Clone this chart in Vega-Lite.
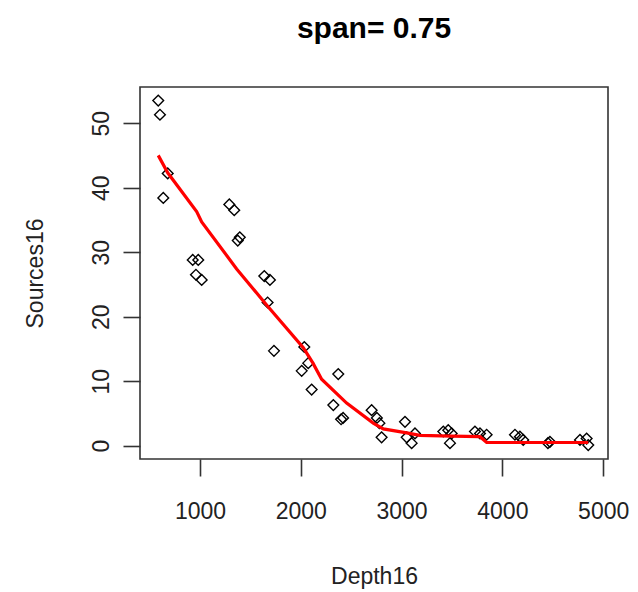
{
  "$schema": "https://vega.github.io/schema/vega-lite/v6.json",
  "width": 468,
  "height": 372,
  "autosize": {"type": "none"},
  "padding": {"left": 140, "top": 87, "right": 30, "bottom": 133},
  "background": "white",
  "title": {
    "text": "span= 0.75",
    "font": "Liberation Sans",
    "fontSize": 30,
    "fontWeight": "bold",
    "color": "#000000",
    "anchor": "middle",
    "frame": "group",
    "baseline": "alphabetic",
    "offset": 19
  },
  "config": {
    "view": {"stroke": "#333333", "strokeWidth": 1.6},
    "axis": {
      "grid": false,
      "domain": false,
      "tickSize": 17,
      "tickColor": "#333333",
      "tickWidth": 1.6,
      "labelFont": "Liberation Sans",
      "labelFontSize": 23,
      "labelColor": "#222222",
      "titleFont": "Liberation Sans",
      "titleFontSize": 23,
      "titleFontWeight": "normal",
      "titleColor": "#222222"
    }
  },
  "datasets": {
    "pts": [
      {"Depth16": 586, "Sources16": 53.5},
      {"Depth16": 603, "Sources16": 51.3},
      {"Depth16": 680, "Sources16": 42.2},
      {"Depth16": 636, "Sources16": 38.4},
      {"Depth16": 928, "Sources16": 28.8},
      {"Depth16": 983, "Sources16": 28.8},
      {"Depth16": 960, "Sources16": 26.5},
      {"Depth16": 1017, "Sources16": 25.7},
      {"Depth16": 1291, "Sources16": 37.4},
      {"Depth16": 1340, "Sources16": 36.5},
      {"Depth16": 1375, "Sources16": 31.8},
      {"Depth16": 1395, "Sources16": 32.3},
      {"Depth16": 1638, "Sources16": 26.3},
      {"Depth16": 1694, "Sources16": 25.7},
      {"Depth16": 1671, "Sources16": 22.2},
      {"Depth16": 1734, "Sources16": 14.7},
      {"Depth16": 2035, "Sources16": 15.3},
      {"Depth16": 2009, "Sources16": 11.6},
      {"Depth16": 2074, "Sources16": 12.8},
      {"Depth16": 2108, "Sources16": 8.7},
      {"Depth16": 2372, "Sources16": 11.1},
      {"Depth16": 2323, "Sources16": 6.3},
      {"Depth16": 2400, "Sources16": 4.1},
      {"Depth16": 2420, "Sources16": 4.3},
      {"Depth16": 2703, "Sources16": 5.5},
      {"Depth16": 2755, "Sources16": 4.3},
      {"Depth16": 2780, "Sources16": 3.5},
      {"Depth16": 2802, "Sources16": 1.3},
      {"Depth16": 3034, "Sources16": 3.7},
      {"Depth16": 3051, "Sources16": 1.3},
      {"Depth16": 3133, "Sources16": 1.9},
      {"Depth16": 3100, "Sources16": 0.4},
      {"Depth16": 3414, "Sources16": 2.2},
      {"Depth16": 3463, "Sources16": 2.4},
      {"Depth16": 3497, "Sources16": 1.9},
      {"Depth16": 3480, "Sources16": 0.4},
      {"Depth16": 3728, "Sources16": 2.2},
      {"Depth16": 3778, "Sources16": 1.9},
      {"Depth16": 3844, "Sources16": 1.7},
      {"Depth16": 4125, "Sources16": 1.7},
      {"Depth16": 4174, "Sources16": 1.4},
      {"Depth16": 4207, "Sources16": 0.9},
      {"Depth16": 4472, "Sources16": 0.6},
      {"Depth16": 4452, "Sources16": 0.4},
      {"Depth16": 4770, "Sources16": 0.9},
      {"Depth16": 4836, "Sources16": 1.1},
      {"Depth16": 4852, "Sources16": 0.1}
    ],
    "fit": [
      {"Depth16": 586, "fit": 45.0},
      {"Depth16": 680, "fit": 42.3},
      {"Depth16": 967, "fit": 36.3},
      {"Depth16": 1017, "fit": 34.7},
      {"Depth16": 1364, "fit": 27.4},
      {"Depth16": 1661, "fit": 21.8},
      {"Depth16": 2025, "fit": 15.2},
      {"Depth16": 2121, "fit": 12.8},
      {"Depth16": 2207, "fit": 10.3},
      {"Depth16": 2455, "fit": 6.6},
      {"Depth16": 2719, "fit": 3.5},
      {"Depth16": 2819, "fit": 2.6},
      {"Depth16": 3051, "fit": 2.0},
      {"Depth16": 3182, "fit": 1.6},
      {"Depth16": 3500, "fit": 1.5},
      {"Depth16": 3778, "fit": 1.4},
      {"Depth16": 3844, "fit": 0.5},
      {"Depth16": 4852, "fit": 0.5}
    ]
  },
  "layer": [
    {
      "data": {"name": "pts"},
      "mark": {"type": "point", "shape": "diamond", "filled": false, "stroke": "#000000", "strokeWidth": 1.4, "size": 115, "opacity": 1},
      "encoding": {
        "x": {
          "field": "Depth16", "type": "quantitative",
          "scale": {"domain": [405, 5048], "nice": false, "zero": false},
          "axis": {
            "values": [1000, 2000, 3000, 4000, 5000],
            "format": "d",
            "labelBaseline": "alphabetic",
            "labelPadding": 42,
            "labelFlush": false,
            "labelOverlap": false,
            "title": "Depth16",
            "titleX": 234,
            "titleY": 124,
            "titleAlign": "center",
            "titleBaseline": "alphabetic",
            "titleAnchor": null
          }
        },
        "y": {
          "field": "Sources16", "type": "quantitative",
          "scale": {"domain": [-2.06, 55.6], "nice": false, "zero": false},
          "axis": {
            "values": [0, 10, 20, 30, 40, 50],
            "format": "d",
            "labelAngle": -90,
            "labelAlign": "center",
            "labelBaseline": "alphabetic",
            "labelPadding": 15,
            "labelFlush": false,
            "labelOverlap": false,
            "title": "Sources16",
            "titleAngle": -90,
            "titleX": -98,
            "titleY": 186,
            "titleAlign": "center",
            "titleBaseline": "alphabetic"
          }
        }
      }
    },
    {
      "data": {"name": "fit"},
      "mark": {"type": "line", "color": "#ff0000", "strokeWidth": 3.2, "interpolate": "linear"},
      "encoding": {
        "x": {"field": "Depth16", "type": "quantitative"},
        "y": {"field": "fit", "type": "quantitative"}
      }
    }
  ]
}
